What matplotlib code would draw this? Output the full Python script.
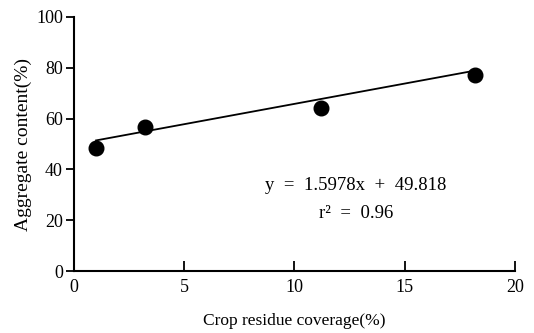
import numpy as np
import matplotlib.pyplot as plt

plt.rcParams['font.family'] = ['Liberation Serif', 'DejaVu Serif']

# data
coverage = [1.0, 3.2, 11.2, 18.2]
aggregate = [48.6, 56.6, 64.0, 77.0]
slope = 1.5978
intercept = 49.818
x_ticks = [0, 5, 10, 15, 20]
y_ticks = [0, 20, 40, 60, 80, 100]

fig = plt.figure(figsize=(5.34, 3.33), dpi=100)
ax = fig.add_axes([0.1386, 0.186, 0.8254, 0.763])

# trend line over the data range
fit_x = np.array([min(coverage), max(coverage)])
ax.plot(fit_x, slope * fit_x + intercept, color='black', lw=1.3, zorder=2)
ax.plot(coverage, aggregate, 'o', color='black', markersize=10.5, zorder=3)

ax.set_xlim(0, 20)
ax.set_ylim(0, 100)
ax.set_xticks(x_ticks)
ax.set_yticks(y_ticks)
ax.spines['top'].set_visible(False)
ax.spines['right'].set_visible(False)
ax.spines['left'].set_linewidth(1.5)
ax.spines['bottom'].set_linewidth(1.5)
ax.tick_params(axis='x', direction='in', length=7, width=1.3, labelsize=13, pad=6)
ax.tick_params(axis='y', direction='out', length=6, width=1.3, labelsize=13, pad=2)

ax.set_xlabel('Crop residue coverage(%)', fontsize=12.5, labelpad=12)
ax.set_ylabel('Aggregate content(%)', fontsize=14, labelpad=3)

ax.text(12.8, 33.8, 'y  =  1.5978x  +  49.818', ha='center', va='center', fontsize=13.5)
ax.text(12.8, 22.8, 'r²  =  0.96', ha='center', va='center', fontsize=13.5)

plt.savefig('out.png', dpi=100)
